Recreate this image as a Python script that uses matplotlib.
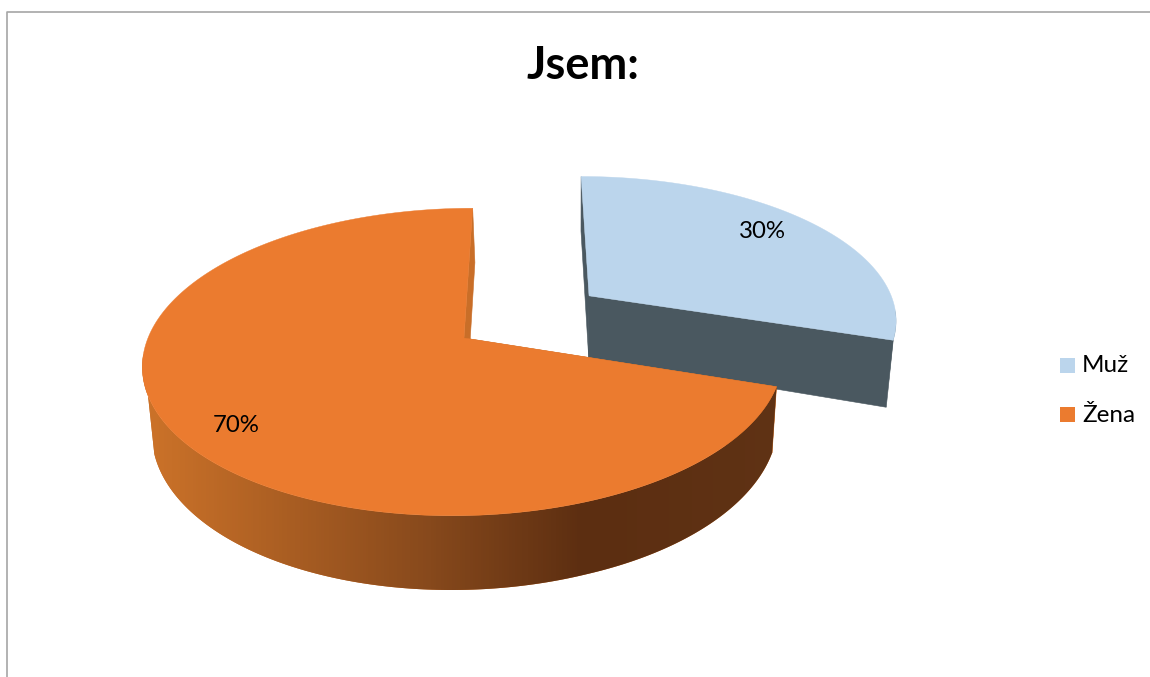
import numpy as np
import matplotlib
matplotlib.use('Agg')
import matplotlib.pyplot as plt
from matplotlib.colors import LinearSegmentedColormap
from matplotlib.patches import Polygon, Rectangle

categories = ['Muž', 'Žena']
values = [30, 70]
labels = ['30%', '70%']
colors = ['#BBD5EC', '#EB7B2F']
wall_colors = ['#4A5860', '#C96E28']

# fake 3D projection, in pixels of the 1150x677 picture
CX, CY = 464, 338
RX, RY = 316, 150
SHEAR = 10
PERSP = 0.156
HEIGHT = 62
VANISH_X = 575
SQUEEZE = 0.022
TILT = 0.006
EXPLODE = 0.5


def project(x, y, down=False, extra=0):
    scale = 1 + PERSP * y
    sx = CX + (RX * x + SHEAR * y) / scale
    sy = CY - RY * y / scale
    if down:
        sy = sy + HEIGHT / scale + TILT * np.abs(sx - 587) + extra
        sx = sx + (VANISH_X - sx) * SQUEEZE
    return np.column_stack([sx, sy])


def draw_slice(ax, start, end, color, wall, ox=0.0, oy=0.0, extra=0, shaded=False):
    ang = np.linspace(start, end, 361)
    x = ox + np.sin(ang)
    y = oy + np.cos(ang)
    top = project(x, y)
    bottom = project(x, y, down=True, extra=extra)
    apex_top = project(np.array([ox]), np.array([oy]))
    apex_bottom = project(np.array([ox]), np.array([oy]), down=True, extra=extra)

    # cut faces
    for i in (0, -1):
        quad = [apex_top[0], top[i], bottom[i], apex_bottom[0]]
        ax.add_patch(Polygon(quad, closed=True, fc=wall, ec=wall, lw=0.4))

    # rim, only the part turned towards the viewer
    rim_top = top[np.cos(ang) < -0.1]
    rim_bottom = bottom[np.cos(ang) < -0.3]
    rim = Polygon(np.vstack([rim_top, rim_bottom[::-1]]), closed=True, fc=wall, ec='none')
    ax.add_patch(rim)
    if shaded:
        # side of the big slice gets darker from left to right
        cmap = LinearSegmentedColormap.from_list(
            'side', [(0, '#CB7229'), (0.03, '#CB7229'), (0.448, '#87491C'),
                     (0.679, '#5C2E11'), (1, '#603315')])
        grad = np.linspace(0, 1, 670).reshape(1, -1)
        img = ax.imshow(grad, cmap=cmap, extent=(130, 800, 600, 300),
                        aspect='auto', zorder=2)
        img.set_clip_path(rim)
        ax.set_xlim(0, 1150)
        ax.set_ylim(677, 0)

    # top face
    face = np.vstack([apex_top, top])
    ax.add_patch(Polygon(face, closed=True, fc=color, ec=color, lw=0.3, zorder=3))


def plot_pie():
    plt.rcParams['font.family'] = ['Lato', 'DejaVu Sans']
    fig = plt.figure(figsize=(11.5, 6.77), dpi=100)
    ax = fig.add_axes([0, 0, 1, 1])
    ax.set_xlim(0, 1150)
    ax.set_ylim(677, 0)
    ax.axis('off')

    # chart frame, the right and bottom sides are cut off in the picture
    ax.plot([7, 7, 1150], [677, 12, 12], color='#A6A6A6', lw=1.2)

    ax.text(583, 66, 'Jsem:', ha='center', va='center', fontsize=32.5,
            fontweight='bold', color='black')

    shares = np.array(values) / sum(values) * 2 * np.pi
    mid = shares[0] / 2
    draw_slice(ax, 0, shares[0], colors[0], wall_colors[0],
               EXPLODE * np.sin(mid), EXPLODE * np.cos(mid), extra=3)
    # orange covers the lower edge of the blue slice
    draw_slice(ax, shares[0], 2 * np.pi, colors[1], wall_colors[1], shaded=True)

    ax.text(762, 231, labels[0], ha='center', va='center', fontsize=17.3,
            color='black', zorder=5)
    ax.text(236, 425, labels[1], ha='center', va='center', fontsize=17.3,
            color='black', zorder=5)

    for name, color, y in zip(categories, colors, [358, 407]):
        ax.add_patch(Rectangle((1060, y), 15, 15, fc=color, ec='none'))
        ax.text(1082, y + 8, name, ha='left', va='center', fontsize=17.5, color='black')

    fig.savefig('out.png', dpi=100, facecolor='white')
    plt.close(fig)


if __name__ == "__main__":
    plot_pie()
